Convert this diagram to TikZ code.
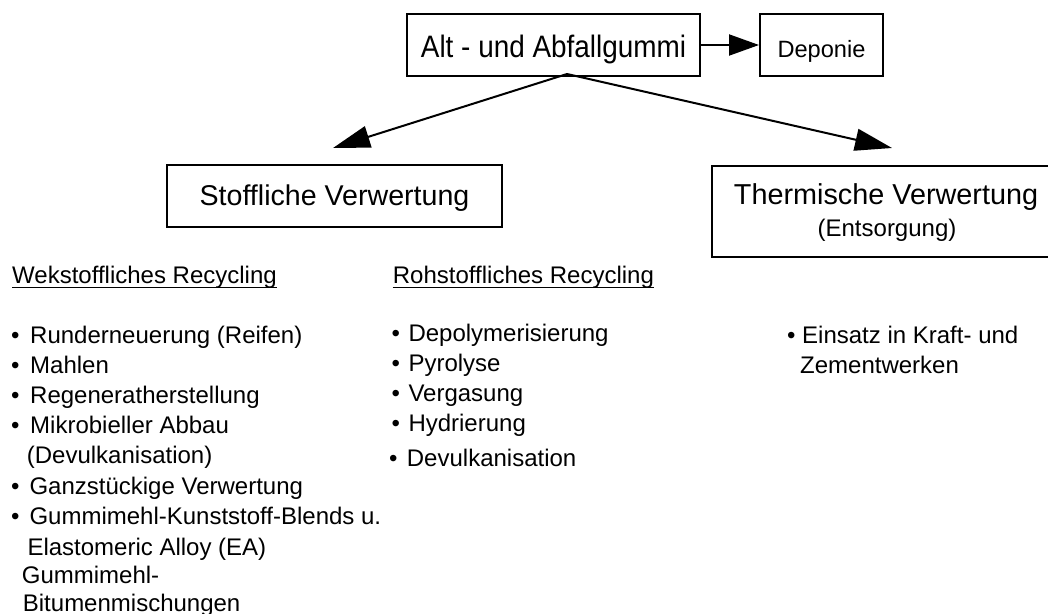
\documentclass[tikz,border=0pt]{standalone}
\usepackage{fontspec}
\setmainfont{Liberation Sans}
\usetikzlibrary{arrows.meta,calc}
\newcommand{\fsz}[1]{\fontsize{#1}{1.2\dimexpr#1pt\relax}\selectfont}
\begin{document}
\begin{tikzpicture}[x=1pt,y=-1pt,
  box/.style={draw, line width=2pt, inner sep=0pt, text depth=0pt},
  conn/.style={line width=2pt},
  txt/.style={inner sep=0pt, anchor=base west, font=\fsz{24}},
  ctxt/.style={inner sep=0pt, anchor=base},
  uline/.style={line width=1.4pt}]
\useasboundingbox (0,0) rectangle (1048,613);

% boxes
\node[box, minimum width=293pt, minimum height=62pt, text height=25pt] (alt) at (553.5,45)
  {\scalebox{0.9}[1]{\fsz{31}Alt - und Abfallgummi}\hspace{7pt}};
\node[box, minimum width=123pt, minimum height=62pt, text height=24pt] (dep) at (821.5,45)
  {\fsz{23.6}Deponie\hspace{5pt}};
\node[box, minimum width=335pt, minimum height=62pt, text height=18pt] (stoff) at (334.5,196)
  {\fsz{28.6}Stoffliche Verwertung\hspace{14pt}};
\node[box, minimum width=338pt, minimum height=91pt] (therm) at (881,211.5) {};
\node[ctxt, font=\fsz{28.8}] (thermA) at (886,204) {Thermische Verwertung};
\node[ctxt, font=\fsz{24}] (thermB) at (887,236) {(Entsorgung)};

% connectors
\coordinate (fork) at ($(alt.south)+(13.5,-3)$);
\coordinate (ltip) at (333,148);
\coordinate (rtip) at (892,148);
\draw[conn, -{Triangle[length=30pt,width=21pt]}] (alt.east) -- (dep.west);
\draw[conn, -{Triangle[length=37pt,width=22pt]}] (fork) -- (ltip);
\draw[conn, -{Triangle[length=37pt,width=22pt]}] (fork) -- (rtip);

% column 1
\node[txt] (wh) at (12,283.3) {Wekstoffliches Recycling};
\draw[uline] ($(wh.base west)+(0,4)$) -- ($(wh.base east)+(0,4)$);
\node[txt] (wb1) at (11,343.3) {•};
\node[txt] (w1) at (30,343.3) {Runderneuerung (Reifen)};
\node[txt] (wb2) at (11,373.3) {•};
\node[txt] (w2) at (30,373.3) {Mahlen};
\node[txt] (wb3) at (11,403.3) {•};
\node[txt] (w3) at (30,403.3) {Regeneratherstellung};
\node[txt] (wb4) at (11,433.3) {•};
\node[txt] (w4) at (30,433.3) {Mikrobieller Abbau};
\node[txt] (w4b) at (26.7,463.3) {(Devulkanisation)};
\node[txt] (wb5) at (11,494.3) {•};
\node[txt] (w5) at (29.3,494.3) {Ganzstückige Verwertung};
\node[txt] (wb6) at (11,524.3) {•};
\node[txt] (w6) at (29.3,524.3) {Gummimehl-Kunststoff-Blends u.};
\node[txt] (w6b) at (27.3,555) {Elastomeric Alloy (EA)};
\node[txt] (w7) at (21.7,583.3) {Gummimehl-};
\node[txt] (w7b) at (22.7,611.7) {Bitumenmischungen};

% column 2
\node[txt] (rh) at (392.7,283.3) {Rohstoffliches Recycling};
\draw[uline] ($(rh.base west)+(0,4)$) -- ($(rh.base east)+(0,4)$);
\node[txt] (rb1) at (391.5,341.7) {•};
\node[txt] (r1) at (408.3,341.7) {Depolymerisierung};
\node[txt] (rb2) at (391.5,371.7) {•};
\node[txt] (r2) at (408.3,371.7) {Pyrolyse};
\node[txt] (rb3) at (391.5,401.7) {•};
\node[txt] (r3) at (408.3,401.7) {Vergasung};
\node[txt] (rb4) at (391.5,431.7) {•};
\node[txt] (r4) at (408.3,431.7) {Hydrierung};
\node[txt] (rb5) at (388.8,466.7) {•};
\node[txt] (r5) at (406.7,466.7) {Devulkanisation};

% column 3
\node[txt] (tb1) at (787,343.3) {•};
\node[txt] (t1) at (802,343.3) {Einsatz in Kraft- und};
\node[txt] (t1b) at (800,373) {Zementwerken};
\end{tikzpicture}
\end{document}
